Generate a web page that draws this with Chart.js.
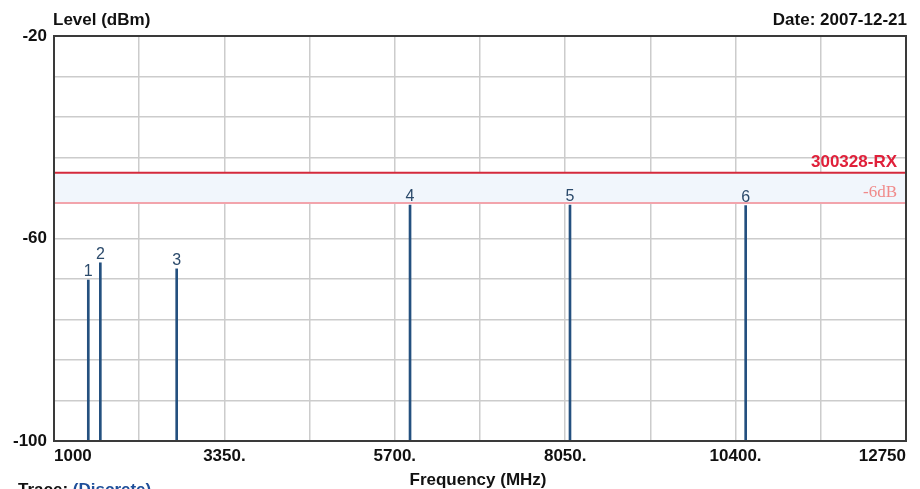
<!DOCTYPE html>
<html><head><meta charset="utf-8">
<script src="https://cdn.jsdelivr.net/npm/chart.js@4/dist/chart.umd.min.js"></script>
<style>html,body{margin:0;padding:0;background:#fff;overflow:hidden}#wrap{width:920px;height:489px}</style>
</head><body><div id="wrap"><canvas id="c" width="920" height="489"></canvas></div>
<script>
// ---- data ----
const markerIds = ['1', '2', '3', '4', '5', '6'];
const markerFreqs = [1473, 1639, 2692, 5910, 8116, 10539];
const markerLevels = [-68.2, -64.8, -66.0, -53.4, -53.4, -53.5];
const floorLevel = -100;
const limitLevel = -47;
const marginLevel = -53;
const limitLabel = '300328-RX';
const marginLabel = '-6dB';
const xTickValues = [1000, 3350, 5700, 8050, 10400, 12750];
const xTickTexts = ['1000', '3350.', '5700.', '8050.', '10400.', '12750'];
const yTickValues = [-20, -60, -100];
const yTickTexts = ['-20', '-60', '-100'];
const xMin = 1000, xMax = 12750, xStep = 1175;
const yMin = -100, yMax = -20, yStep = 8;

const FONT = '"Liberation Sans", Arial, sans-serif';

const textPlugin = {
  id: 'texts',
  afterDatasetsDraw(chart) {
    const ctx = chart.ctx, xs = chart.scales.x, ys = chart.scales.y, a = chart.chartArea;
    ctx.save();
    // marker labels
    ctx.font = '16px ' + FONT;
    ctx.fillStyle = '#2b4a6b';
    ctx.textAlign = 'center';
    ctx.textBaseline = 'alphabetic';
    markerIds.forEach((id, i) => {
      ctx.fillText(id, xs.getPixelForValue(markerFreqs[i]), ys.getPixelForValue(markerLevels[i]) - 4);
    });
    // limit labels
    ctx.textAlign = 'right';
    ctx.font = 'bold 17px ' + FONT;
    ctx.fillStyle = '#e0203a';
    ctx.fillText(limitLabel, a.right - 9, ys.getPixelForValue(limitLevel) - 6);
    ctx.font = '17px "Liberation Serif", serif';
    ctx.fillStyle = '#f08a8a';
    ctx.fillText(marginLabel, a.right - 9, ys.getPixelForValue(marginLevel) - 6);
    // frame
    ctx.strokeStyle = '#3a3a3a';
    ctx.lineWidth = 2;
    ctx.strokeRect(a.left, a.top, a.right - a.left, a.bottom - a.top);
    // titles
    ctx.fillStyle = '#111';
    ctx.font = 'bold 17px ' + FONT;
    ctx.textAlign = 'left';
    ctx.fillText('Level (dBm)', 53, 25);
    ctx.textAlign = 'right';
    ctx.fillText('Date: 2007-12-21', 907, 25);
    ctx.textAlign = 'center';
    ctx.fillText('Frequency (MHz)', 478, 485);
    ctx.textAlign = 'left';
    ctx.fillText('Trace:', 18, 495);
    const w = ctx.measureText('Trace: ').width;
    ctx.fillStyle = '#1f4f9a';
    ctx.fillText('(Discrete)', 18 + w, 495);
    ctx.restore();
  }
};

new Chart(document.getElementById('c'), {
  type: 'bar',
  data: {
    datasets: [
      {
        type: 'bar',
        data: markerFreqs.map((f, i) => ({ x: f, y: [floorLevel, markerLevels[i]] })),
        backgroundColor: '#24507f',
        borderWidth: 0,
        barThickness: 2,
        grouped: false,
        order: 1
      },
      {
        type: 'line',
        data: [{ x: xMin, y: limitLevel }, { x: xMax, y: limitLevel }],
        borderColor: '#d42a3c',
        borderWidth: 2,
        pointRadius: 0,
        fill: false,
        order: 2
      },
      {
        type: 'line',
        data: [{ x: xMin, y: marginLevel }, { x: xMax, y: marginLevel }],
        borderColor: '#f2a4ac',
        borderWidth: 2,
        pointRadius: 0,
        fill: { target: 1 },
        backgroundColor: '#f1f6fc',
        order: 3
      }
    ]
  },
  options: {
    responsive: false,
    animation: false,
    devicePixelRatio: 1,
    layout: { padding: { left: 0, top: 36, right: 14, bottom: 0 } },
    plugins: { legend: { display: false }, tooltip: { enabled: false }, title: { display: false } },
    scales: {
      x: {
        type: 'linear',
        min: xMin, max: xMax,
        offset: false,
        afterBuildTicks(s) {
          const t = [];
          for (let v = xMin; v <= xMax + 1e-6; v += xStep) t.push({ value: v });
          s.ticks = t;
        },
        afterFit(s) { s.height = 48; },
        ticks: {
          autoSkip: false, maxRotation: 0, minRotation: 0, align: 'inner', padding: 5,
          color: '#111',
          font: { family: FONT, size: 17, weight: 'bold' },
          callback(v) { const k = xTickValues.indexOf(Math.round(v)); return k >= 0 ? xTickTexts[k] : ''; }
        },
        grid: { color: '#cccccc', lineWidth: 1.5, drawTicks: false, offset: false },
        border: { display: false }
      },
      y: {
        type: 'linear',
        min: yMin, max: yMax,
        afterBuildTicks(s) {
          const t = [];
          for (let v = yMin; v <= yMax + 1e-6; v += yStep) t.push({ value: v });
          s.ticks = t;
        },
        afterFit(s) { s.width = 54; },
        ticks: {
          autoSkip: false, padding: 7,
          color: '#111',
          font: { family: FONT, size: 17, weight: 'bold' },
          callback(v) { const k = yTickValues.indexOf(Math.round(v)); return k >= 0 ? yTickTexts[k] : ''; }
        },
        grid: { color: '#cccccc', lineWidth: 1.5, drawTicks: false },
        border: { display: false }
      }
    }
  },
  plugins: [textPlugin]
});
</script>
</body></html>
